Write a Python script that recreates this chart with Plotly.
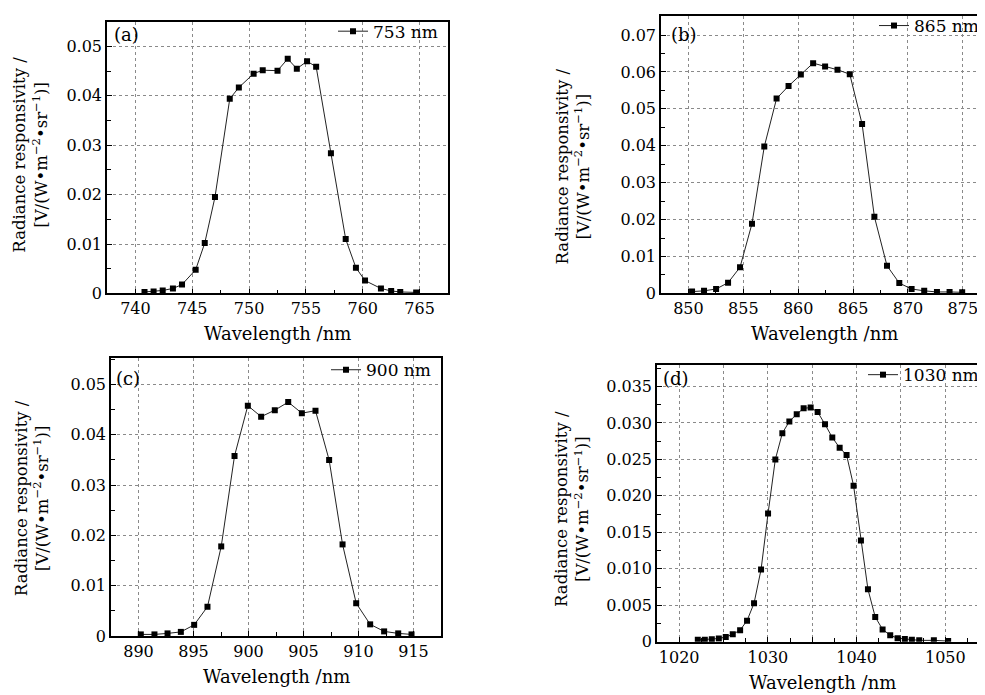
import plotly.graph_objects as go

W, H = 985, 695
FONT = "DejaVu Serif"

# ---------------- data ----------------
wl_a = [740.8, 741.6, 742.4, 743.3, 744.1, 745.3, 746.1, 747.0, 748.3, 749.1, 750.4, 751.2,
        752.5, 753.4, 754.2, 755.1, 755.9, 757.2, 758.5, 759.4, 760.2, 761.6, 762.5, 763.3, 764.7]
resp_a = [0.0003, 0.0004, 0.0006, 0.0010, 0.0018, 0.0048, 0.0102, 0.0195, 0.0394, 0.0417, 0.0445, 0.0452,
          0.0451, 0.0475, 0.0455, 0.0470, 0.0459, 0.0284, 0.0110, 0.0052, 0.0026, 0.0010, 0.0005, 0.0003, 0.0002]

wl_b = [850.33, 851.42, 852.52, 853.61, 854.70, 855.79, 856.91, 858.03, 859.12, 860.24, 861.36, 862.45,
        863.58, 864.70, 865.82, 866.94, 868.09, 869.21, 870.33, 871.48, 872.64, 873.79, 874.94]
resp_b = [0.0005, 0.0007, 0.0012, 0.0029, 0.0071, 0.0189, 0.0398, 0.0528, 0.0562, 0.0593, 0.0624, 0.0615,
          0.0606, 0.0594, 0.0459, 0.0208, 0.0075, 0.0028, 0.0012, 0.0007, 0.0004, 0.0004, 0.0003]

wl_c = [890.21, 891.45, 892.64, 893.85, 895.06, 896.27, 897.52, 898.73, 899.94, 901.15, 902.39,
        903.61, 904.85, 906.09, 907.33, 908.55, 909.79, 911.06, 912.33, 913.61, 914.82]
resp_c = [0.0003, 0.0003, 0.0005, 0.0008, 0.0022, 0.0058, 0.0178, 0.0358, 0.0458, 0.0436, 0.0449,
          0.0465, 0.0443, 0.0448, 0.0350, 0.0182, 0.0065, 0.0023, 0.0009, 0.0005, 0.0003]

wl_d = [1022.10, 1022.89, 1023.68, 1024.47, 1025.25, 1026.04, 1026.87, 1027.65, 1028.44, 1029.23,
        1030.02, 1030.84, 1031.63, 1032.42, 1033.25, 1034.03, 1034.82, 1035.61, 1036.44, 1037.26,
        1038.09, 1038.87, 1039.66, 1040.49, 1041.28, 1042.10, 1042.93, 1043.79, 1044.62, 1045.44,
        1046.23, 1047.06, 1048.71, 1050.32]
resp_d = [0.00027, 0.0003, 0.00036, 0.00045, 0.00067, 0.00103, 0.0016, 0.0029, 0.0053, 0.0099,
          0.0176, 0.0250, 0.0286, 0.0302, 0.0312, 0.0320, 0.0321, 0.0315, 0.0298, 0.0280,
          0.0266, 0.0256, 0.0214, 0.0139, 0.0072, 0.0034, 0.0017, 0.0009, 0.0005, 0.0004,
          0.0003, 0.0002, 0.0002, 0.0001]

series_names = ["753 nm", "865 nm", "900 nm", "1030 nm"]
panel_labels = ["(a)", "(b)", "(c)", "(d)"]

yt_a = [0, 0.01, 0.02, 0.03, 0.04, 0.05]
yl_a = ["0", "0.01", "0.02", "0.03", "0.04", "0.05"]
yt_b = [0, 0.01, 0.02, 0.03, 0.04, 0.05, 0.06, 0.07]
yl_b = ["0", "0.01", "0.02", "0.03", "0.04", "0.05", "0.06", "0.07"]
yt_c = yt_a
yl_c = yl_a
yt_d = [0, 0.005, 0.010, 0.015, 0.020, 0.025, 0.030, 0.035]
yl_d = ["0", "0.005", "0.010", "0.015", "0.020", "0.025", "0.030", "0.035"]

xt_a = [740, 745, 750, 755, 760, 765]
xl_a = ["740", "745", "750", "755", "760", "765"]
xt_b = [850, 855, 860, 865, 870, 875]
xl_b = ["850", "855", "860", "865", "870", "875"]
xt_c = [890, 895, 900, 905, 910, 915]
xl_c = ["890", "895", "900", "905", "910", "915"]
xt_d = [1020, 1025, 1030, 1035, 1040, 1045, 1050]
xl_d = ["1020", "", "1030", "", "1040", "", "1050"]

x_title = "Wavelength /nm"
y_title = "Radiance responsivity /<br>[V/(W•m<sup>−2</sup>•sr<sup>−1</sup>)]"

# ---------------- layout (pixel boxes) ----------------
panels = [
    dict(wl=wl_a, r=resp_a, box=(99, 440, 13, 289), xr=[737.5, 767.5], yr=[0, 0.055],
         xt=xt_a, xl=xl_a, yt=yt_a, yl=yl_a, xmin0=740, ymin=0.005, ytx=22, yty=148,
         lab=(104, 26), leg=(435, 23)),
    dict(wl=wl_b, r=resp_b, box=(653, 979, 7, 289), xr=[847.5, 877.2], yr=[0, 0.0752],
         xt=xt_b, xl=xl_b, yt=yt_b, yl=yl_b, xmin0=850, ymin=0.005, ytx=565, yty=160,
         lab=(661, 26), leg=(976, 17)),
    dict(wl=wl_c, r=resp_c, box=(103, 433, 355, 637), xr=[887.5, 917.5], yr=[0, 0.0552],
         xt=xt_c, xl=xl_c, yt=yt_c, yl=yl_c, xmin0=890, ymin=0.005, ytx=24, yty=497,
         lab=(106, 375), leg=(428, 367)),
    dict(wl=wl_d, r=resp_d, box=(649, 979, 362, 643), xr=[1017.5, 1054.7], yr=[0, 0.0379],
         xt=xt_d, xl=xl_d, yt=yt_d, yl=yl_d, xmin0=1020, ymin=0.0025, ytx=564, yty=508,
         lab=(653, 375), leg=(976, 372)),
]

fig = go.Figure()
annotations = []
layout = {}

for i, p in enumerate(panels):
    k = "" if i == 0 else str(i + 1)
    x0, x1, yt0, yb0 = p["box"]
    xd = [x0 / W, x1 / W]
    yd = [1 - yb0 / H, 1 - yt0 / H]
    leg = "legend" if i == 0 else f"legend{i+1}"
    fig.add_trace(go.Scatter(
        x=p["wl"], y=p["r"], mode="lines+markers", name=series_names[i],
        line=dict(color="#222222", width=1),
        marker=dict(symbol="square", size=6, color="black"),
        xaxis="x" + k, yaxis="y" + k, legend=leg))
    common = dict(showline=True, linecolor="black", linewidth=1.5, mirror=True,
                  showgrid=True, gridcolor="#8a8a8a", griddash="dot", gridwidth=1,
                  ticks="inside", ticklen=5, tickcolor="black", zeroline=False,
                  tickfont=dict(family=FONT, size=16, color="black"))
    layout["xaxis" + k] = dict(common, domain=xd, range=p["xr"], anchor="y" + k,
                               tickmode="array", tickvals=p["xt"], ticktext=p["xl"],
                               minor=dict(dtick=2.5, tick0=p["xmin0"], ticks="inside",
                                          ticklen=4, tickcolor="black", showgrid=False))
    layout["yaxis" + k] = dict(common, domain=yd, range=p["yr"], anchor="x" + k,
                               tickmode="array", tickvals=p["yt"], ticktext=p["yl"],
                               minor=dict(dtick=p["ymin"], tick0=0, ticks="inside",
                                          ticklen=4, tickcolor="black", showgrid=False))
    lx, ly = p["leg"]
    layout[leg] = dict(x=lx / W, y=1 - ly / H, xanchor="right", yanchor="middle",
                       bgcolor="rgba(255,255,255,0)", borderwidth=0,
                       font=dict(family=FONT, size=17, color="black"),
                       itemwidth=30, tracegroupgap=0)
    # panel label
    ax, ay = p["lab"]
    annotations.append(dict(text=panel_labels[i], xref="paper", yref="paper",
                            x=ax / W, y=1 - ay / H, xanchor="left", yanchor="middle",
                            showarrow=False, font=dict(family=FONT, size=18, color="black")))
    # x title
    annotations.append(dict(text=x_title, xref="paper", yref="paper",
                            x=(x0 + x1) / 2 / W, y=1 - (yb0 + 41) / H, xanchor="center",
                            yanchor="middle", showarrow=False,
                            font=dict(family=FONT, size=18, color="black")))
    # y title
    annotations.append(dict(text=y_title, xref="paper", yref="paper",
                            x=p["ytx"] / W, y=1 - p["yty"] / H, xanchor="center",
                            yanchor="middle", textangle=-90, showarrow=False,
                            font=dict(family=FONT, size=16.5, color="black")))

fig.update_layout(**layout)
fig.update_layout(width=W, height=H, margin=dict(l=0, r=0, t=0, b=0),
                  paper_bgcolor="white", plot_bgcolor="white",
                  font=dict(family=FONT, color="black"),
                  annotations=annotations, showlegend=True)
fig.write_html("out.html")
